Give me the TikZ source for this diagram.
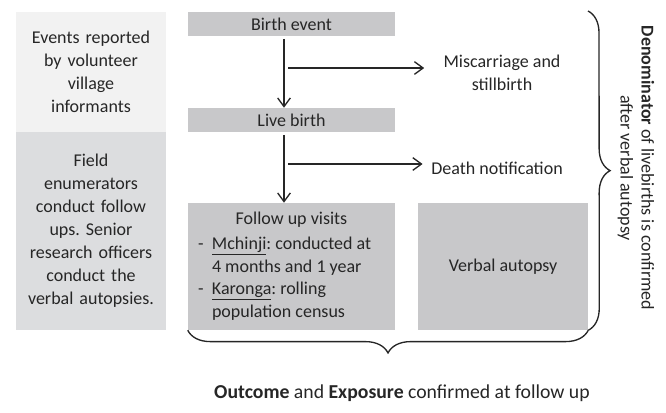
\documentclass[tikz,border=0pt]{standalone}
\usepackage{fontspec}
\setmainfont{Carlito}
\usetikzlibrary{arrows.meta}
\usetikzlibrary{decorations.pathreplacing}
\frenchspacing

\definecolor{infofill}{RGB}{242,242,242}
\definecolor{stafffill}{RGB}{220,221,223}
\definecolor{stagefill}{RGB}{200,200,202}
\definecolor{ink}{RGB}{38,38,38}

\tikzset{
  sidebox/.style={rectangle, inner sep=0pt, minimum width=112.5pt, text width=105pt, align=center},
  stagebar/.style={rectangle, fill=stagefill, inner sep=0pt, minimum width=155.25pt, minimum height=18pt},
  stagebox/.style={rectangle, fill=stagefill, inner sep=0pt, minimum height=95.25pt},
  flow/.style={-{Straight Barb[length=6.5pt,width=9.5pt]}, line width=1pt, draw=ink},
  curly/.style={decorate, decoration={brace, amplitude=#1}, line width=1pt, draw=ink},
}

\begin{document}
\begin{tikzpicture}[x=0.75pt, y=0.75pt, font=\fontsize{13.5}{17.25}\selectfont, text=ink]
\useasboundingbox (0,0) rectangle (666,-412);

% who does the work
\node[sidebox, fill=infofill, minimum height=90pt](events) at (91,-72) {Events reported\\by volunteer\\village\\informants};
\node[sidebox, fill=stafffill, minimum height=148.5pt](staff) at (91,-231) {Field\\enumerators\\conduct follow\\ups. Senior\\research officers\\conduct the\\verbal autopsies.};

% stages
\node[stagebar](birth) at (291.5,-24) {Birth event};
\node[stagebar](live) at (291.5,-120) {Live birth};
\node[stagebox, minimum width=155.25pt](followup) at (291.5,-266.5) {%
  \fontsize{13.5}{17}\selectfont
  \begin{tabular}{@{}p{10.5pt}@{}p{129.75pt}@{}}
  \multicolumn{2}{c}{Follow up visits}\\[1.5pt]
  - & \underline{Mchinji}: conducted at\\
    & 4 months and 1 year\\
  - & \underline{Karonga}: rolling\\
    & population census
  \end{tabular}};
\node[stagebox, minimum width=127.5pt](autopsy) at (503,-266.5) {Verbal autopsy};

% side outcomes
\node[align=center](miscarriage) at (502,-73) {Miscarriage and\\stillbirth};
\node(death) at (497,-168) {Death notification};

\coordinate (trunk) at (284,0);
\coordinate (fork1) at (288,-68);
\coordinate (fork2) at (288,-164);
\coordinate (bracetop) at (588,-11);

\draw[flow] ([yshift=-2pt]birth.south -| trunk) -- (live.north -| trunk);
\draw[flow] ([yshift=-2pt]live.south -| trunk) -- (followup.north -| trunk);
\draw[flow, shorten >=11pt] (fork1) -- (miscarriage.west |- fork1);
\draw[flow, shorten >=3pt] (fork2) -- (death.west |- fork2);

% braces
\draw[curly=16.5pt] (bracetop) -- (autopsy.south east);
\draw[curly=17pt] (autopsy.south east) -- (followup.south west);

\node[rotate=-90, align=center, font=\fontsize{13.5}{15.75}\selectfont](denominator) at (636,-168) {\textbf{Denominator} of livebirths is confirmed\\after verbal autopsy};
\node[font=\fontsize{14.8}{17}\selectfont](outcome) at (402,-393) {\textbf{Outcome} and \textbf{Exposure} confirmed at follow up};
\end{tikzpicture}
\end{document}
